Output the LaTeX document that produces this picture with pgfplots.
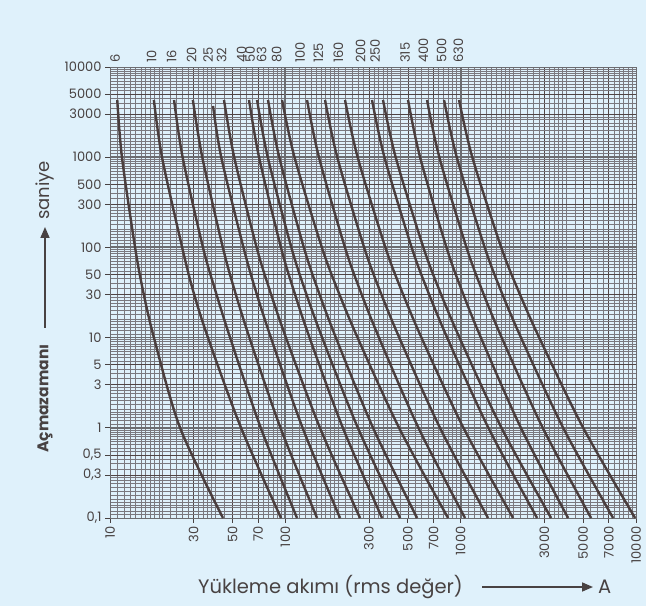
\documentclass[border=0pt]{standalone}
\usepackage{pgfplots}
\pgfplotsset{compat=1.18}
\usepackage{fontspec}
\setmainfont{Poppins}
\usetikzlibrary{arrows.meta}
\definecolor{bg}{RGB}{223,241,251}
\definecolor{curve}{RGB}{74,62,62}
\definecolor{txt}{RGB}{72,66,66}
\definecolor{gridd}{RGB}{80,68,68}
\definecolor{gridl}{RGB}{122,120,126}
\definecolor{gridm}{RGB}{108,108,112}
\newcommand{\tickfont}{\fontsize{13bp}{15bp}\selectfont}
\newcommand{\labfont}{\fontsize{19.5bp}{21bp}\selectfont}
\tikzset{fc/.style={draw=curve, line width=2.4bp, smooth, tension=0.5, mark=none}}
\begin{document}
\begin{tikzpicture}
\fill[bg] (-110bp,-88bp) rectangle (536bp,518bp);
\begin{axis}[
  at={(0,0)}, anchor=south west, scale only axis,
  width=526bp, height=451bp,
  xmode=log, ymode=log,
  xmin=10, xmax=10000, ymin=0.1, ymax=10000,
  axis line style={draw=gridm, line width=0.9bp},
  tick align=outside, xtick pos=left, ytick pos=left,
  major tick length=5bp, minor tick length=0pt,
  tick style={draw=txt, line width=0.8bp},
  xtick={10,30,50,70,100,300,500,700,1000,3000,5000,7000,10000},
  xticklabels={10,30,50,70,100,300,500,700,1000,3000,5000,7000,10000},
  ytick={0.1,0.3,0.5,1,3,5,10,30,50,100,300,500,1000,3000,5000,10000},
  yticklabels={{0,1},{0,3},{0,5},1,3,5,10,30,50,100,300,500,1000,3000,5000,10000},
  xticklabel style={rotate=90, anchor=east, font=\tickfont, text=txt},
  yticklabel style={font=\tickfont, text=txt},
  grid=both,
  major grid style={draw=gridd, line width=0.7bp},
  minor grid style={draw=gridl, line width=0.6bp},
  minor xtick={11,12,13,14,15,16,17,18,19,20,22,24,26,28,32,34,36,38,40,45,55,60,65,75,80,85,90,95,
    110,120,130,140,150,160,170,180,190,200,220,240,260,280,320,340,360,380,400,450,550,600,650,750,800,850,900,950,
    1100,1200,1300,1400,1500,1600,1700,1800,1900,2000,2200,2400,2600,2800,3200,3400,3600,3800,4000,4500,5500,6000,6500,7500,8000,8500,9000,9500},
  minor ytick={0.11,0.12,0.13,0.14,0.15,0.16,0.18,0.2,0.22,0.24,0.26,0.28,0.35,0.4,0.45,0.55,0.6,0.65,0.7,0.75,0.8,0.85,0.9,0.95,
    1.1,1.2,1.3,1.4,1.5,1.6,1.8,2,2.2,2.4,2.6,2.8,3.5,4,4.5,5.5,6,6.5,7,7.5,8,8.5,9,9.5,
    11,12,13,14,15,16,18,20,22,24,26,28,35,40,45,55,60,65,70,75,80,85,90,95,
    110,120,130,140,150,160,180,200,220,240,260,280,350,400,450,550,600,650,700,750,800,850,900,950,
    1100,1200,1300,1400,1500,1600,1800,2000,2200,2400,2600,2800,3500,4000,4500,5500,6000,6500,7000,7500,8000,8500,9000,9500},
  extra x ticks={100,1000},
  extra x tick labels={},
  extra y ticks={1,10,100,1000},
  extra y tick labels={},
  extra tick style={major tick length=0pt, grid=major, major grid style={draw=gridm, line width=1.8bp}},
  clip=true,
]
% 6 A
\addplot[fc] coordinates {(11.0,4300) (11.7,1000) (13.9,100) (15.4,33.7) (17.8,10) (25.1,1) (44.1,0.1)};
% 10 A
\addplot[fc] coordinates {(17.8,4300) (19.8,1000) (25.8,100) (29.7,33.7) (36.2,10) (55.9,1) (94.5,0.1)};
% 16 A
\addplot[fc] coordinates {(23.2,4300) (25.95,1000) (33.9,100) (39.8,33.7) (48.4,10) (72.4,1) (116.6,0.1)};
% 20 A
\addplot[fc] coordinates {(29.7,4300) (33.6,1000) (44.0,100) (51.3,33.7) (62.4,10) (93.8,1) (151.7,0.1)};
% 25 A
\addplot[fc] coordinates {(38.7,3700) (43.1,1000) (57.7,100) (67.6,33.7) (82.7,10) (125.4,1) (205.1,0.1)};
% 32 A
\addplot[fc] coordinates {(44.7,4300) (51.1,1000) (68.6,100) (81.4,33.7) (100.8,10) (157.6,1) (266.8,0.1)};
% 40 A
\addplot[fc] coordinates {(62.1,4300) (70.8,1000) (94.4,100) (111.5,33.7) (137.4,10) (212.8,1) (356.1,0.1)};
% 50 A
\addplot[fc] coordinates {(69.0,4300) (79.4,1000) (108.2,100) (129.4,33.7) (162.2,10) (259.2,1) (451.1,0.1)};
% 63 A
\addplot[fc] coordinates {(79.7,4300) (92.3,1000) (127.5,100) (153.5,33.7) (194.2,10) (316.4,1) (563.9,0.1)};
% 80 A
\addplot[fc] coordinates {(95.8,4300) (112.8,1000) (161.6,100) (198.9,33.7) (258.2,10) (445.3,1) (847.5,0.1)};
% 100 A
\addplot[fc] coordinates {(133.0,4300) (155.5,1000) (218.8,100) (266.5,33.7) (342.0,10) (574.5,1) (1059,0.1)};
% 125 A
\addplot[fc] coordinates {(168.5,4300) (197.8,1000) (281.5,100) (345.1,33.7) (446.5,10) (761.9,1) (1433,0.1)};
% 160 A
\addplot[fc] coordinates {(219.0,4300) (258.5,1000) (372.0,100) (458.9,33.7) (597.5,10) (1037,1) (1990,0.1)};
% 200 A
\addplot[fc] coordinates {(312.3,4300) (367.5,1000) (525.3,100) (645.7,33.7) (837.5,10) (1439,1) (2728,0.1)};
% 250 A
\addplot[fc] coordinates {(360.8,4300) (425.8,1000) (612.7,100) (755.7,33.7) (984.4,10) (1709,1) (3280,0.1)};
% 315 A
\addplot[fc] coordinates {(501,4300) (586.6,1000) (829.8,100) (1013,33.7) (1304,10) (2205,1) (4100,0.1)};
% 400 A
\addplot[fc] coordinates {(643.1,4300) (755.7,1000) (1079,100) (1323,33.7) (1714,10) (2938,1) (5545,0.1)};
% 500 A
\addplot[fc] coordinates {(804,4300) (950,1000) (1371,100) (1691,33.7) (2208,10) (3843,1) (7403,0.1)};
% 630 A
\addplot[fc] coordinates {(979,4300) (1165,1000) (1704,100) (2125,33.7) (2805,10) (4997,1) (9883,0.1)};
\end{axis}
% curve labels above the frame
\begin{scope}[every node/.style={rotate=90, anchor=west, font=\tickfont, text=txt, inner sep=1bp}]
\foreach \lab/\xp in {6/5, 10/41.7, 16/61.7, 20/81.7, 25/98, 32/111.7, 40/131.7, 50/140, 63/151.7, 80/166.7, 100/190, 125/208.3, 160/228.3, 200/250.5, 250/265, 315/295, 400/313.3, 500/331.7, 630/348.3}
  \node at (\xp bp, 454bp) {\lab};
\end{scope}
% axis titles
\node[anchor=west, font=\labfont, text=txt, inner sep=0pt] at (88bp,-69bp) {Yükleme akımı (rms değer)};
\draw[txt, line width=1.6bp, -{Triangle[length=11bp, width=9bp]}] (372bp,-69bp) -- (483bp,-69bp);
\node[anchor=west, font=\labfont, text=txt, inner sep=0pt] at (488bp,-69bp) {A};
\node[rotate=90, anchor=west, font=\fontsize{15.5bp}{17bp}\selectfont\bfseries, text=txt, inner sep=0pt] at (-65bp,65bp) {Açmazamanı};
\draw[txt, line width=1.6bp, -{Triangle[length=11bp, width=9bp]}] (-65bp,190bp) -- (-65bp,291bp);
\node[rotate=90, anchor=west, font=\fontsize{18bp}{20bp}\selectfont, text=txt, inner sep=0pt] at (-65bp,298bp) {saniye};
\pgfresetboundingbox
\path[use as bounding box] (-110bp,-88bp) rectangle (536bp,518bp);
\end{tikzpicture}
\end{document}
